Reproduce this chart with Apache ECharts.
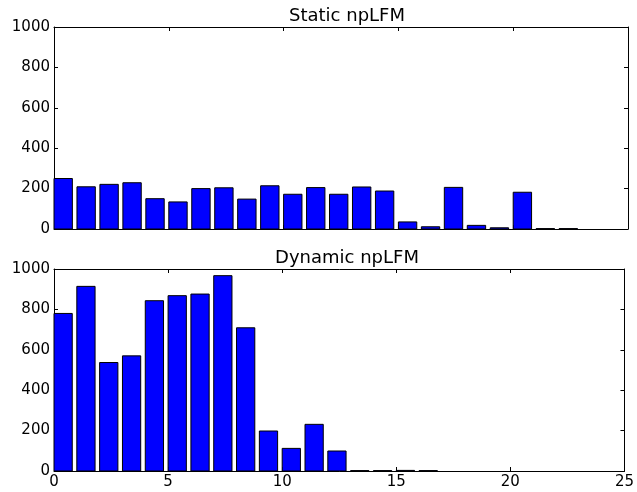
<!DOCTYPE html>
<html>
<head>
<meta charset="utf-8">
<script src="https://cdn.jsdelivr.net/npm/echarts@6/dist/echarts.min.js"></script>
<style>html,body{margin:0;padding:0;background:#fff;}#c{width:637px;height:492px;}</style>
</head>
<body>
<div id="c"></div>
<script>
const positions = [0,1,2,3,4,5,6,7,8,9,10,11,12,13,14,15,16,17,18,19,20,21,22,23,24];
const staticValues = [250,209,221,229,150,134,200,204,148,214,172,205,172,208,188,35,11,206,18,6,182,2,2,0,0];
const dynamicValues = [780,914,537,570,843,868,876,967,709,198,112,231,99,2,2,3,2,0,0,0,0,0,0,0,0];
const xTicks = [0,5,10,15,20,25];
const yTicks = [0,200,400,600,800,1000];
const titles = ['Static npLFM','Dynamic npLFM'];
const barWidth = 0.8;

const FONT = 'DejaVu Sans';
const chart = echarts.init(document.getElementById('c'), null, {renderer:'canvas'});

function barRender(params, api){
  const x = api.value(0), y = api.value(1);
  if (!(y > 0)) return null;
  const p0 = api.coord([x, 0]);
  const p1 = api.coord([x + barWidth, y]);
  return {
    type:'rect',
    shape:{x:p0[0], y:p1[1], width:p1[0]-p0[0], height:p0[1]-p1[1]},
    style:{fill:'#0000ff', stroke:'#000', lineWidth:1}
  };
}

const grids = [
  {left:54, width:574, top:27, height:202},
  {left:54, width:574, top:269, height:202}
];
const xAxes = [], yAxes = [];
const plainFmt = v => String(v);
grids.forEach((g, i) => {
  const common = {type:'value', gridIndex:i, splitLine:{show:false},
    axisLine:{show:true, onZero:false, lineStyle:{color:'#000', width:1}},
    axisTick:{show:true, inside:true, length:4, lineStyle:{color:'#000', width:1}}};
  xAxes.push(Object.assign({}, common, {position:'bottom', min:xTicks[0], max:xTicks[xTicks.length-1], interval:5,
    axisLabel:{show:i===1, color:'#000', fontFamily:FONT, fontSize:15, margin:4, formatter:plainFmt}}));
  xAxes.push(Object.assign({}, common, {position:'top', min:xTicks[0], max:xTicks[xTicks.length-1], interval:5,
    axisLabel:{show:false}}));
  yAxes.push(Object.assign({}, common, {position:'left', min:yTicks[0], max:yTicks[yTicks.length-1], interval:200,
    axisLabel:{show:true, color:'#000', fontFamily:FONT, fontSize:15, margin:4, formatter:plainFmt}}));
  yAxes.push(Object.assign({}, common, {position:'right', min:yTicks[0], max:yTicks[yTicks.length-1], interval:200,
    axisLabel:{show:false}}));
});

chart.setOption({
  animation:false,
  backgroundColor:'#fff',
  title: titles.map((t,i)=>({text:t, left:342, textAlign:'center', top:i===0?2:244,
    textStyle:{fontFamily:FONT, fontSize:18, fontWeight:'normal', color:'#000'}})),
  grid: grids,
  xAxis: xAxes,
  yAxis: yAxes,
  series: [
    {type:'custom', xAxisIndex:0, yAxisIndex:0, renderItem:barRender,
      data: positions.map((p,k)=>[p, staticValues[k]])},
    {type:'custom', xAxisIndex:2, yAxisIndex:2, renderItem:barRender,
      data: positions.map((p,k)=>[p, dynamicValues[k]])}
  ]
});
</script>
</body>
</html>
